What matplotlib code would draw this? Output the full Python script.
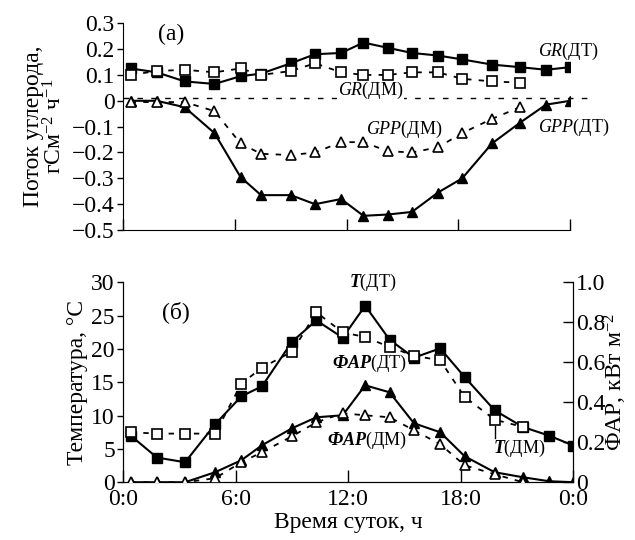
import matplotlib
matplotlib.use("Agg")
import matplotlib.pyplot as plt

plt.rcParams["font.family"] = ["Liberation Serif", "DejaVu Serif"]
plt.rcParams["mathtext.fontset"] = "custom"
plt.rcParams["mathtext.rm"] = "Liberation Serif"
plt.rcParams["mathtext.it"] = "Liberation Serif:italic"
plt.rcParams["mathtext.bf"] = "Liberation Serif:bold:italic"

# time of day, h
hours = [0.4, 1.8, 3.3, 4.9, 6.3, 7.4, 9.0, 10.3, 11.7, 12.9,
         14.2, 15.5, 16.9, 18.2, 19.8, 21.3, 22.7, 24.0]

# (a) carbon flux, gC m-2 h-1
gr_dt = [0.125, 0.11, 0.075, 0.065, 0.095, 0.105, 0.145, 0.18, 0.185, 0.225,
         0.205, 0.185, 0.175, 0.16, 0.14, 0.13, 0.12, 0.13]
gr_dm = [0.10, 0.115, 0.12, 0.11, 0.125, 0.10, 0.115, 0.145, 0.11, 0.10,
         0.10, 0.11, 0.11, 0.085, 0.075, 0.07]
gpp_dt = [0.0, 0.0, -0.025, -0.125, -0.295, -0.365, -0.365, -0.40, -0.38, -0.445,
          -0.44, -0.43, -0.355, -0.30, -0.165, -0.085, -0.015, 0.0]
gpp_dm = [-0.005, -0.005, -0.005, -0.04, -0.165, -0.205, -0.21, -0.20, -0.16, -0.16,
          -0.195, -0.20, -0.18, -0.125, -0.07, -0.025]

# (б) temperature, C and PAR, kW m-2
t_dt = [7.0, 3.7, 3.0, 8.7, 12.9, 14.4, 21.1, 24.3, 21.7, 26.5,
        21.4, 18.7, 20.1, 15.8, 10.8, 8.3, 7.0, 5.5]
t_dm = [7.5, 7.3, 7.3, 7.3, 14.8, 17.2, 19.6, 25.5, 22.5, 21.8,
        20.3, 19.0, 18.3, 12.8, 9.4, 8.3]
par_dt = [0.0, 0.0, 0.0, 0.05, 0.11, 0.185, 0.27, 0.325, 0.335, 0.485,
          0.45, 0.295, 0.25, 0.13, 0.05, 0.025, 0.005, 0.0]
par_dm = [0.0, 0.0, 0.0, 0.02, 0.10, 0.15, 0.23, 0.30, 0.345, 0.335,
          0.325, 0.26, 0.19, 0.085, 0.04, 0.0]

flux_ticks = [0.3, 0.2, 0.1, 0, -0.1, -0.2, -0.3, -0.4, -0.5]
flux_labels = ["0.3", "0.2", "0.1", "0", "\u22120.1", "\u22120.2", "\u22120.3", "\u22120.4", "\u22120.5"]
hour_ticks = [0, 6, 12, 18, 24]
hour_labels = ["0:0", "6:0", "12:0", "18:0", "0:0"]
temp_ticks = [0, 5, 10, 15, 20, 25, 30]
par_ticks = [0, 0.2, 0.4, 0.6, 0.8, 1.0]
par_labels = ["0", "0.2", "0.4", "0.6", "0.8", "1.0"]

FS = 17
filled = dict(color="black", lw=1.5, markersize=7.5, markerfacecolor="black",
              markeredgecolor="black")
hollow = dict(color="black", lw=1.3, markersize=7.5, markerfacecolor="white",
              markeredgecolor="black", markeredgewidth=1.2, dashes=(3, 4))

fig = plt.figure(figsize=(6.35, 5.4), dpi=100)

# ---- panel (a)
ax1 = fig.add_axes([0.194, 0.574, 0.704, 0.383])
ax1.axhline(0.012, xmin=0, xmax=1.045, color="black", lw=1.0, dashes=(4, 6),
            clip_on=False)
ax1.plot(hours, gr_dt, marker="s", zorder=3, **filled)
ax1.plot(hours[:len(gr_dm)], gr_dm, marker="s", zorder=4, **hollow)
ax1.plot(hours, gpp_dt, marker="^", zorder=3, **filled)
ax1.plot(hours[:len(gpp_dm)], gpp_dm, marker="^", zorder=4, **hollow)
ax1.set_xlim(0, 24)
ax1.set_ylim(-0.5, 0.3)
ax1.set_yticks(flux_ticks)
ax1.set_yticklabels(flux_labels, fontsize=FS)
ax1.set_xticks(hour_ticks)
ax1.set_xticklabels([])
ax1.tick_params(axis="x", direction="in", length=8, width=1)
ax1.tick_params(axis="y", direction="out", length=4, width=1, pad=2)
for s in ["top", "right"]:
    ax1.spines[s].set_visible(False)
ax1.set_ylabel("Поток углерода,\nгСм$^{-2}$ ч$^{-1}$", fontsize=FS,
               linespacing=0.95, labelpad=4)
ax1.text(2.6, 0.255, "(а)", fontsize=FS, ha="center", va="center")
ax1.text(23.9, 0.19, r"$\mathit{GR}$(ДТ)", fontsize=13, ha="center", va="center")
ax1.text(13.3, 0.04, r"$\mathit{GR}$(ДМ)", fontsize=13, ha="center", va="center",
         bbox=dict(facecolor="white", edgecolor="none", pad=0.5))
ax1.text(15.1, -0.11, r"$\mathit{GPP}$(ДМ)", fontsize=13, ha="center", va="center")
ax1.text(24.2, -0.105, r"$\mathit{GPP}$(ДТ)", fontsize=13, ha="center", va="center",
         clip_on=False)

# ---- panel (б)
ax2 = fig.add_axes([0.194, 0.107, 0.709, 0.370])
ax3 = ax2.twinx()
ax2.plot(hours, t_dt, marker="s", zorder=3, **filled)
ax2.plot(hours[:len(t_dm)], t_dm, marker="s", zorder=4, **hollow)
ax3.plot(hours, par_dt, marker="^", zorder=3, **filled)
ax3.plot(hours[:len(par_dm)], par_dm, marker="^", zorder=4, **hollow)
ax2.set_xlim(0, 24)
ax2.set_ylim(0, 30)
ax3.set_ylim(0, 1.0)
ax2.set_yticks(temp_ticks)
ax2.set_yticklabels([str(v) for v in temp_ticks], fontsize=FS)
ax3.set_yticks(par_ticks)
ax3.set_yticklabels(par_labels, fontsize=FS)
ax2.set_xticks(hour_ticks)
ax2.set_xticklabels(hour_labels, fontsize=FS)
ax2.tick_params(axis="x", direction="in", length=9, width=1, pad=5)
ax2.tick_params(axis="y", direction="out", length=4, width=1, pad=2)
ax3.tick_params(axis="y", direction="in", length=7, width=1, pad=2)
for a in (ax2, ax3):
    a.spines["top"].set_visible(False)
ax2.set_ylabel("Температура, °С", fontsize=FS, labelpad=2)
ax3.set_ylabel("ФАР, кВт м$^{-2}$", fontsize=FS, labelpad=-3)
ax2.set_xlabel("Время суток, ч", fontsize=FS, labelpad=1)

ax2.text(2.8, 25.5, "(б)", fontsize=FS, ha="center", va="center")
ax2.text(13.3, 30.0, r"$\mathbf{T}$(ДТ)", fontsize=13, ha="center", va="center",
         clip_on=False)
ax2.text(13.1, 17.8, r"$\mathbf{ФАР}$(ДТ)", fontsize=13, ha="center", va="center")
ax2.text(13.0, 6.3, r"$\mathbf{ФАР}$(ДМ)", fontsize=13, ha="center", va="center")
ax2.text(21.1, 5.1, r"$\mathbf{T}$(ДМ)", fontsize=13, ha="center", va="center")
ax2.plot([hours[14], hours[14]], [8.4, 6.6], color="black", lw=1)

fig.savefig("out.png", dpi=100)
